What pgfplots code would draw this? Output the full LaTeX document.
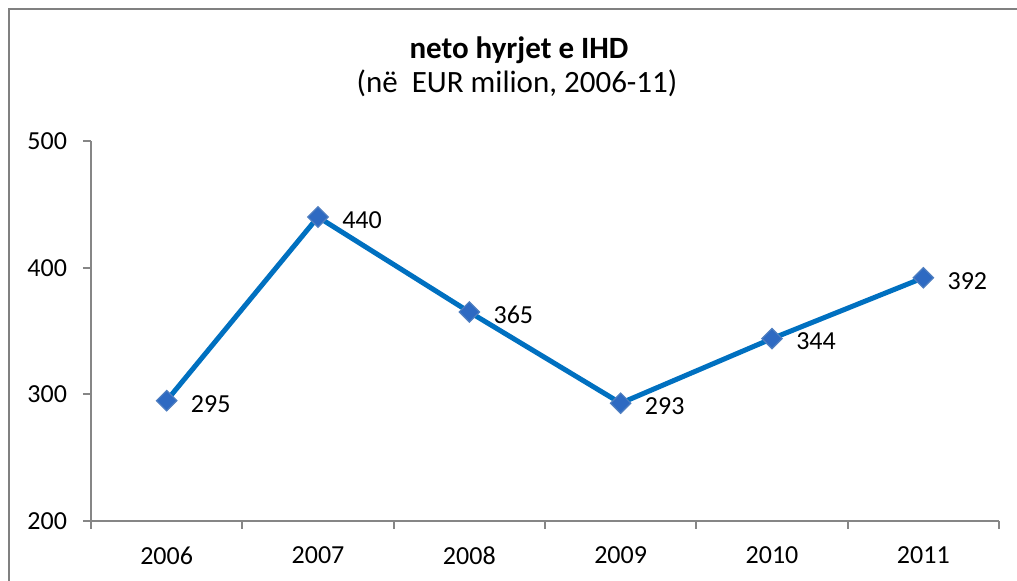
\documentclass[border=0pt]{standalone}
\usepackage{fontspec}
\setmainfont{Carlito}
\usepackage{pgfplots}
\pgfplotsset{compat=1.18}
\definecolor{xlblue}{RGB}{0,112,192}
\definecolor{mkfill}{RGB}{46,106,194}
\definecolor{mkdraw}{RGB}{78,126,192}
\definecolor{axisgray}{RGB}{134,134,134}
\definecolor{framegray}{RGB}{128,128,128}

\begin{document}
\begin{tikzpicture}
\useasboundingbox (0,0) rectangle (508.5pt,-290.5pt);
\draw[framegray, line width=1pt] (4.5pt,-291pt) -- (4.5pt,-4.5pt) -- (509pt,-4.5pt);
\node[font=\fontsize{15.5}{18}\selectfont\bfseries, anchor=base] at (259.5pt,-29.5pt) {neto hyrjet e IHD};
\node[font=\fontsize{15.5}{18}\selectfont, anchor=base] at (258.5pt,-46.5pt) {(në\ \ EUR milion, 2006-11)};

\begin{axis}[
  at={(45.5pt,-260.5pt)}, anchor=south west,
  scale only axis, width=454pt, height=190pt,
  xmin=-0.5, xmax=5.5, ymin=200, ymax=500,
  axis lines*=left, axis line style={-, draw=axisgray, line width=1pt},
  xtick={-0.5,0.5,1.5,2.5,3.5,4.5,5.5},
  x tick label as interval,
  xticklabels={2006,2007,2008,2009,2010,2011},
  ytick={200,300,400,500},
  tick align=outside, major tick length=4pt,
  tick style={draw=axisgray, line width=1pt},
  ticklabel style={font=\fontsize{13}{15}\selectfont},
  xticklabel style={yshift=-5.5pt},
  yticklabel style={xshift=-4.5pt},
  /pgf/number format/assume math mode=true,
  clip=false,
]
\addplot[color=xlblue, line width=2.5pt, mark=square*, mark size=3.6pt,
  mark options={fill=mkfill, draw=mkdraw, line width=0.6pt, rotate=45},
  nodes near coords,
  nodes near coords style={font=\fontsize{13}{15}\selectfont, anchor=west,
    xshift=8.5pt, yshift=-1.5pt, text=black}]
  coordinates {(0,295) (1,440) (2,365) (3,293) (4,344) (5,392)};
\end{axis}
\end{tikzpicture}
\end{document}
